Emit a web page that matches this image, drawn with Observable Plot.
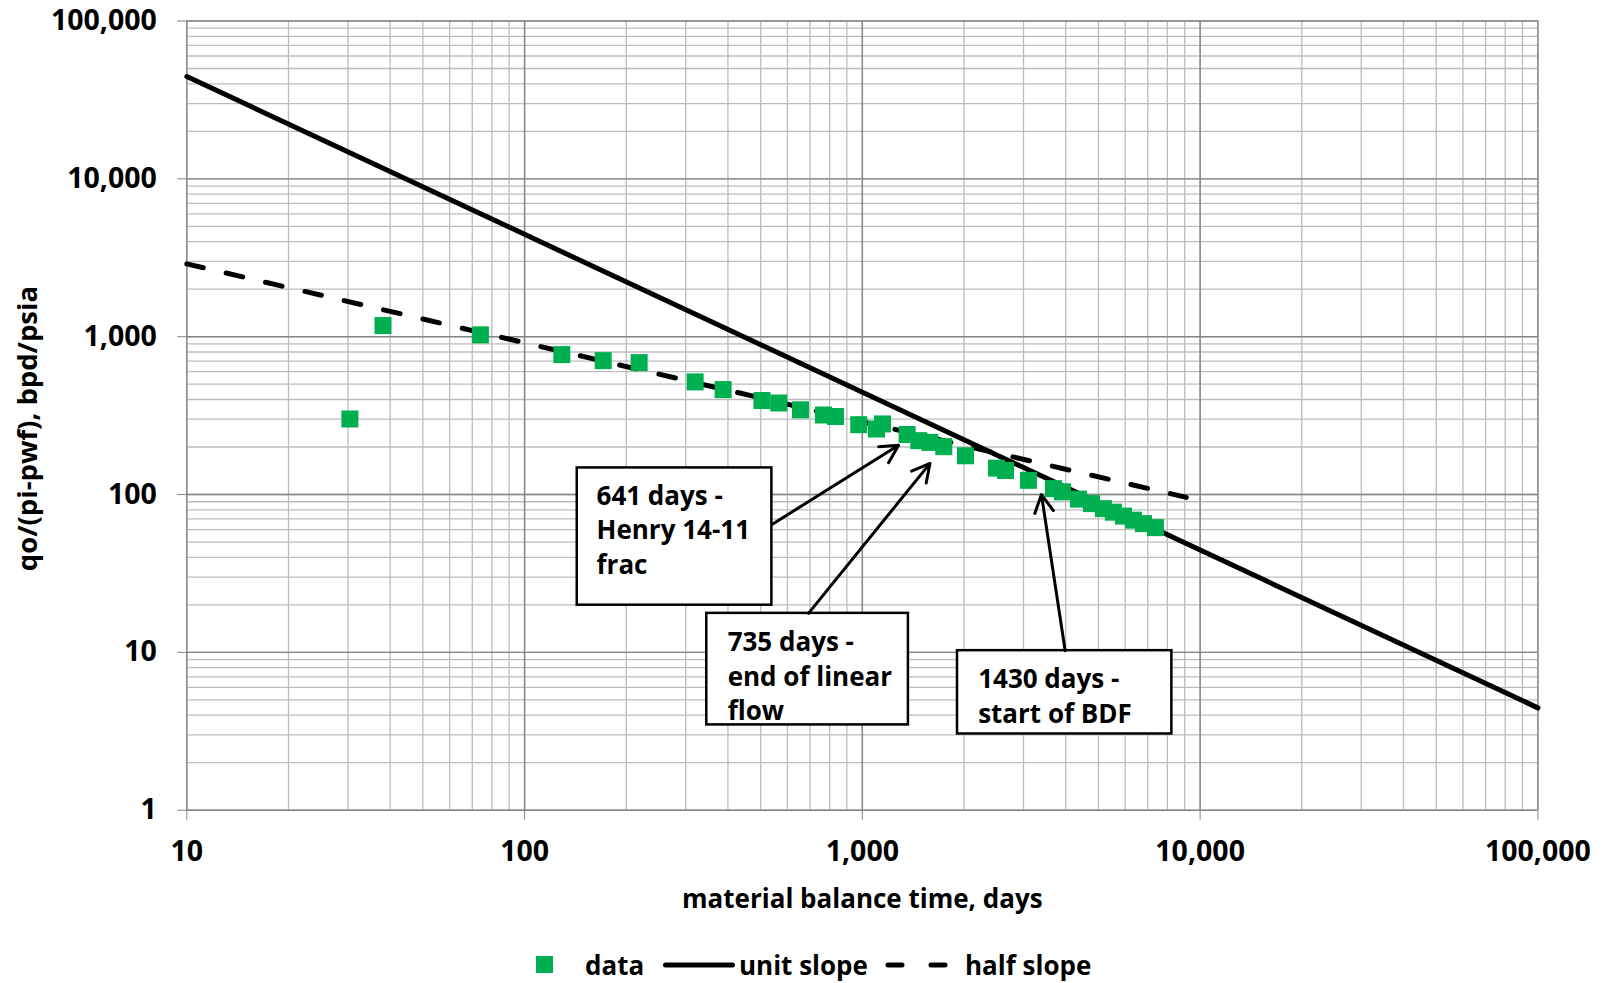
<!DOCTYPE html>
<html>
<head>
<meta charset="utf-8">
<script src="https://cdn.jsdelivr.net/npm/d3@7"></script>
<script src="https://cdn.jsdelivr.net/npm/@observablehq/plot@0.6"></script>
<style>
  html, body { margin: 0; padding: 0; background: #fff; overflow: hidden; }
  #wrap { position: relative; width: 1605px; height: 983px; font-family: "Open Sans", sans-serif; font-weight: 700; }
  #legend { position: absolute; left: 0; top: 943px; width: 1605px; height: 40px; font-size: 26px; color: #000; }
  #legend .item { position: absolute; top: 0; height: 43px; display: flex; align-items: center; white-space: nowrap; }
</style>
</head>
<body>
<div id="wrap">
  <div id="chart"></div>
  <div id="legend"></div>
</div>
<script>
// Material balance time (days) and normalized rate qo/(pi-pwf) (bpd/psia)
const mbTime = [30.4, 38.1, 74.0, 128.9, 170.9, 218.4, 319.9, 387.1, 504.5, 565.7,
  655.9, 767.1, 832.5, 975.7, 1101, 1147, 1357, 1469, 1584, 1742,
  2020, 2495, 2653, 3102, 3679, 3912, 4363, 4767, 5171, 5538,
  5930, 6347, 6796, 7374];
const normRate = [301, 1176, 1027, 770, 705, 685, 517, 462, 394, 380,
  344, 319, 312, 277, 260, 280, 240, 219.5, 214, 201,
  176, 147, 142, 123, 109, 104, 93.5, 87.6, 81.4, 77.3,
  73.0, 68.8, 65.4, 61.7];

// Reference straight lines on the log-log plot (end points)
const unitSlopeTime = [10, 100000];
const unitSlopeRate = [44500, 4.45];
const halfSlopeTime = [10, 9100];
const halfSlopeRate = [2893, 95.9];

// Axis ticks
const xTicks = [10, 100, 1000, 10000, 100000];
const yTicks = [1, 10, 100, 1000, 10000, 100000];

// Annotations: box corners, text anchor and arrow (tail -> head), in data units
const noteText = ["641 days -\nHenry 14-11\nfrac", "735 days -\nend of linear\nflow", "1430 days -\nstart of BDF"];
const boxT1 = [143.2, 346.3, 1913];
const boxT2 = [539.7, 1369, 8247];
const boxQ1 = [147.4, 17.66, 10.25];
const boxQ2 = [19.9, 3.47, 3.04];
const textT = [163.3, 399.2, 2202];
const textQ = [123, 14.6, 8.48];
const arrowT1 = [543, 692.6, 3985];
const arrowQ1 = [65.1, 17.66, 10.25];
const arrowT2 = [1280, 1586, 3390];
const arrowQ2 = [205, 157.6, 99.9];

const points = mbTime.map((t, i) => ({t, q: normRate[i]}));
const unitLine = unitSlopeTime.map((t, i) => ({t, q: unitSlopeRate[i]}));
const halfLine = halfSlopeTime.map((t, i) => ({t, q: halfSlopeRate[i]}));
const notes = noteText.map((label, i) => ({
  label, t1: boxT1[i], t2: boxT2[i], q1: boxQ1[i], q2: boxQ2[i],
  tx: textT[i], qx: textQ[i],
  at1: arrowT1[i], aq1: arrowQ1[i], at2: arrowT2[i], aq2: arrowQ2[i]
}));

const GREEN = "#00B050";
const FONT = {fontSize: 26, fontWeight: 700};
const TICKFONT = {fontSize: 28.5, fontWeight: 700};

const chart = Plot.plot({
  width: 1605,
  height: 940,
  marginTop: 20.5,
  marginBottom: 130.3,
  marginLeft: 186.3,
  marginRight: 67.6,
  style: {fontFamily: "'Open Sans', sans-serif", fontSize: "26px", fontWeight: 700, color: "#000", background: "#fff"},
  x: {type: "log", domain: [10, 100000]},
  y: {type: "log", domain: [1, 100000]},
  marks: [
    // minor and major grid
    Plot.gridX({ticks: 40, stroke: "#bcbcbc", strokeOpacity: 1, strokeWidth: 1.3}),
    Plot.gridY({ticks: 50, stroke: "#bcbcbc", strokeOpacity: 1, strokeWidth: 1.3}),
    Plot.gridX({ticks: xTicks, stroke: "#858585", strokeOpacity: 1, strokeWidth: 1.4}),
    Plot.gridY({ticks: yTicks, stroke: "#858585", strokeOpacity: 1, strokeWidth: 1.4}),
    Plot.axisX({ticks: xTicks, tickFormat: d3.format(","), tickSize: 10, tickPadding: 21,
      stroke: "#858585", fill: "#000", label: null, ...TICKFONT}),
    Plot.axisY({ticks: yTicks, tickFormat: d3.format(","), tickSize: 9, tickPadding: 21,
      stroke: "#858585", fill: "#000", label: null, ...TICKFONT}),
    // axis titles
    Plot.text(["material balance time, days"], {frameAnchor: "bottom", dy: 89, lineAnchor: "middle", fill: "#000", ...FONT}),
    Plot.text(["qo/(pi-pwf), bpd/psia"], {frameAnchor: "left", rotate: -90, dx: -159, dy: 13, textAnchor: "middle", lineAnchor: "middle", fill: "#000", fontSize: 27.5, fontWeight: 700}),
    // slope lines
    Plot.line(unitLine, {x: "t", y: "q", stroke: "#000", strokeWidth: 5}),
    Plot.line(halfLine, {x: "t", y: "q", stroke: "#000", strokeWidth: 5, strokeDasharray: "17 23.4", strokeLinecap: "round"}),
    // data
    Plot.dot(points, {x: "t", y: "q", symbol: "square", r: 9.6, fill: GREEN, stroke: "none"}),
    // annotation boxes
    Plot.rect(notes, {x1: "t1", x2: "t2", y1: "q1", y2: "q2", fill: "#fff", stroke: "#000", strokeWidth: 2.5}),
    Plot.text(notes, {x: "tx", y: "qx", text: "label", textAnchor: "start", lineAnchor: "top", lineHeight: 1.33, fill: "#000", ...FONT}),
    Plot.arrow(notes, {x1: "at1", y1: "aq1", x2: "at2", y2: "aq2", stroke: "#000", strokeWidth: 3, headLength: 10, headAngle: 56})
  ]
});
document.getElementById("chart").appendChild(chart);

// Legend below the plot
const legend = document.getElementById("legend");
const items = [
  {left: 536, html: `<div style="width:17px;height:17px;background:${GREEN}"></div>`},
  {left: 585, html: `<span>data</span>`},
  {left: 663, html: `<svg width="72" height="10"><line x1="2.5" x2="69.5" y1="5" y2="5" stroke="#000" stroke-width="5" stroke-linecap="round"/></svg>`},
  {left: 739, html: `<span>unit slope</span>`},
  {left: 885, html: `<svg width="70" height="10"><line x1="3" x2="66" y1="5" y2="5" stroke="#000" stroke-width="5" stroke-linecap="round" stroke-dasharray="14 29"/></svg>`},
  {left: 965, html: `<span>half slope</span>`}
];
for (const it of items) {
  const d = document.createElement("div");
  d.className = "item";
  d.style.left = it.left + "px";
  d.innerHTML = it.html;
  legend.appendChild(d);
}
</script>
</body>
</html>
